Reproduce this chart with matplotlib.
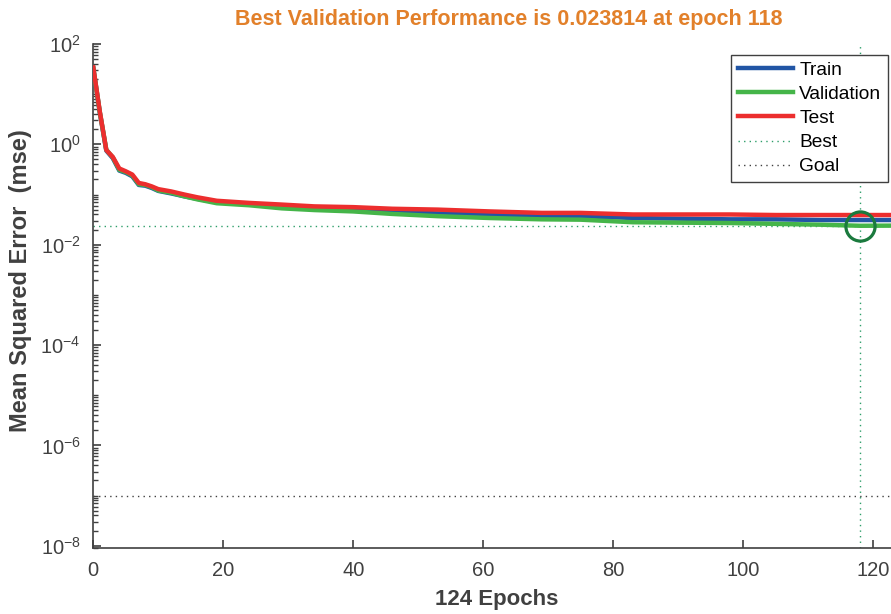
import matplotlib
matplotlib.use('Agg')
import matplotlib.pyplot as plt
import numpy as np
from matplotlib.ticker import LogLocator, LogFormatterMathtext, NullFormatter, FixedLocator

plt.rcParams['font.family'] = ['Liberation Sans', 'DejaVu Sans']
plt.rcParams['mathtext.fontset'] = 'custom'
plt.rcParams['mathtext.rm'] = 'Liberation Sans'
plt.rcParams['mathtext.it'] = 'Liberation Sans:italic'
plt.rcParams['mathtext.bf'] = 'Liberation Sans:bold'

# ---- data ----
epochs = [0, 1, 2, 3, 4, 5, 6, 7, 8, 9, 10, 12, 14, 16, 19, 24, 29, 34, 40, 46,
          53, 61, 69, 75, 83, 90, 98, 105, 112, 118, 124]
train = [33, 4.3, 0.75, 0.53, 0.30, 0.27, 0.23, 0.155, 0.15, 0.135, 0.118, 0.105,
         0.092, 0.082, 0.070, 0.064, 0.058, 0.052, 0.049, 0.045, 0.042, 0.040,
         0.037, 0.037, 0.034, 0.033, 0.032, 0.032, 0.031, 0.031, 0.031]
validation = [33, 4.4, 0.78, 0.55, 0.31, 0.28, 0.24, 0.16, 0.155, 0.14, 0.12, 0.108,
              0.092, 0.080, 0.067, 0.061, 0.053, 0.049, 0.046, 0.041, 0.037, 0.034,
              0.032, 0.0315, 0.028, 0.0275, 0.027, 0.026, 0.025, 0.023814, 0.0240]
test = [34, 4.5, 0.77, 0.56, 0.33, 0.29, 0.25, 0.17, 0.16, 0.145, 0.128, 0.115,
        0.100, 0.088, 0.075, 0.068, 0.063, 0.058, 0.056, 0.052, 0.050, 0.046,
        0.043, 0.043, 0.040, 0.040, 0.040, 0.039, 0.039, 0.039, 0.039]
best_epoch = 118
best_perf = 0.023814
goal = 1e-7
total_epochs = 124
series_names = ['Train', 'Validation', 'Test']

# ---- figure ----
W, H = 891, 614
fig = plt.figure(figsize=(W / 100, H / 100), dpi=100)
left, right, top, bottom = 93.3, 899.3, 44.0, 548.0
ax = fig.add_axes([left / W, 1 - bottom / H, (right - left) / W, (bottom - top) / H])

c_train = '#2155A5'
c_val = '#45B549'
c_test = '#EC2E2E'
c_best = '#2E9E6A'
c_goal = '#404040'
grey = '#404040'

ax.plot(epochs, train, color=c_train, lw=3.2, label=series_names[0], zorder=3)
ax.plot(epochs, validation, color=c_val, lw=3.2, label=series_names[1], zorder=3)
ax.plot(epochs, test, color=c_test, lw=3.2, label=series_names[2], zorder=4)
ax.axhline(best_perf, color=c_best, lw=1, ls=(0, (1, 3)), label='Best', zorder=2)
ax.axvline(best_epoch, color=c_best, lw=1, ls=(0, (1, 3)), zorder=2)
ax.axhline(goal, color=c_goal, lw=1, ls=(0, (1, 3)), label='Goal', zorder=2)
ax.plot([best_epoch], [best_perf], 'o', mfc='none', mec='#1B7A3E', ms=21, mew=2.3, zorder=5)

ax.set_yscale('log')
ax.set_xlim(0, total_epochs)
ax.set_ylim(10 ** (-8.046), 1e2)

ax.yaxis.set_major_locator(FixedLocator([1e-8, 1e-6, 1e-4, 1e-2, 1e0, 1e2]))
ax.yaxis.set_major_formatter(LogFormatterMathtext())
ax.yaxis.set_minor_locator(LogLocator(base=10, subs=np.arange(1, 10), numticks=200))
ax.yaxis.set_minor_formatter(NullFormatter())
ax.set_xticks([0, 20, 40, 60, 80, 100, 120])

for s in ['top', 'right']:
    ax.spines[s].set_visible(False)
for s in ['left', 'bottom']:
    ax.spines[s].set_color(grey)
    ax.spines[s].set_linewidth(1.2)

ax.tick_params(axis='both', which='major', direction='in', length=6, width=1.2,
               colors=grey, labelsize=14.5)
ax.tick_params(axis='x', which='major', pad=9)
ax.tick_params(axis='y', which='major', pad=9)
ax.tick_params(axis='y', which='minor', direction='in', length=3.5, width=1, colors=grey)

ax.set_xlabel('124 Epochs', fontsize=16, fontweight='bold', color=grey, labelpad=7)
ax.set_ylabel('Mean Squared Error  (mse)', fontsize=17, fontweight='bold', color=grey)
ax.yaxis.set_label_coords((32 - left) / (right - left), (bottom - 281) / (bottom - top))
fig.text(509 / W, 1 - 19 / H, 'Best Validation Performance is 0.023814 at epoch 118',
         ha='center', va='center', fontsize=15.5, fontweight='bold', color='#E2802A')

leg = fig.legend(loc='upper right', bbox_to_anchor=(888 / W, 1 - 55 / H), fontsize=13.75,
                 handlelength=2.9, handletextpad=0.3, labelspacing=0.35,
                 borderpad=0.35, borderaxespad=0, fancybox=False, framealpha=1,
                 edgecolor=grey)
leg.get_frame().set_linewidth(1)

fig.savefig('out.png', dpi=100)
